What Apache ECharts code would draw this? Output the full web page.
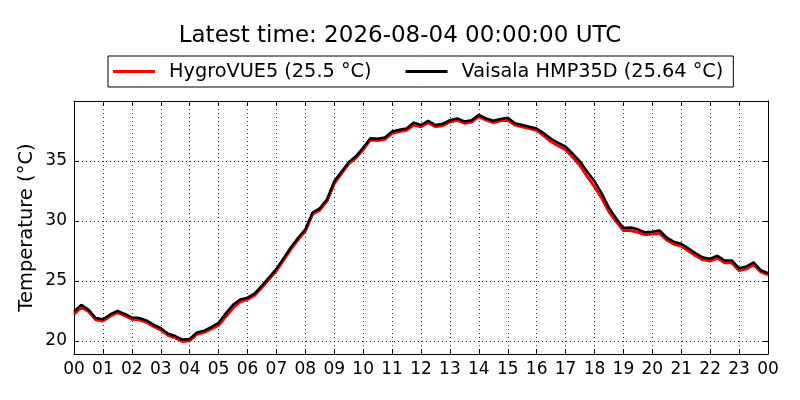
<!DOCTYPE html>
<html>
<head>
<meta charset="utf-8">
<script src="https://cdn.jsdelivr.net/npm/echarts@6/dist/echarts.min.js"></script>
<style>
html, body { margin: 0; padding: 0; background: #fff; }
#chart { width: 800px; height: 400px; }
</style>
</head>
<body>
<div id="chart"></div>
<script>
// hours since 00:00 UTC, one reading every 15 minutes
var hours = [
    0, 0.25, 0.5, 0.75, 1, 1.25, 1.5, 1.75, 2, 2.25, 2.5, 2.75,
    3, 3.25, 3.5, 3.75, 4, 4.25, 4.5, 4.75, 5, 5.25, 5.5, 5.75,
    6, 6.25, 6.5, 6.75, 7, 7.25, 7.5, 7.75, 8, 8.25, 8.5, 8.75,
    9, 9.25, 9.5, 9.75, 10, 10.25, 10.5, 10.75, 11, 11.25, 11.5, 11.75,
    12, 12.25, 12.5, 12.75, 13, 13.25, 13.5, 13.75, 14, 14.25, 14.5, 14.75,
    15, 15.25, 15.5, 15.75, 16, 16.25, 16.5, 16.75, 17, 17.25, 17.5, 17.75,
    18, 18.25, 18.5, 18.75, 19, 19.25, 19.5, 19.75, 20, 20.25, 20.5, 20.75,
    21, 21.25, 21.5, 21.75, 22, 22.25, 22.5, 22.75, 23, 23.25, 23.5, 23.75, 24
];

var hygroVUE5 = [
    22.2, 22.8, 22.45, 21.75, 21.65, 22.05, 22.35, 22.1, 21.8, 21.75, 21.55, 21.2,
    20.9, 20.45, 20.25, 19.95, 20.0, 20.55, 20.7, 21.0, 21.3, 22.0, 22.75, 23.25,
    23.45, 23.8, 24.45, 25.15, 25.85, 26.75, 27.65, 28.45, 29.15, 30.55, 30.9, 31.65,
    33.1, 33.95, 34.75, 35.25, 35.95, 36.75, 36.7, 36.8, 37.3, 37.45, 37.55, 38.0,
    37.85, 38.2, 37.85, 37.95, 38.25, 38.4, 38.15, 38.25, 38.7, 38.4, 38.2, 38.35,
    38.4, 38.0, 37.85, 37.7, 37.55, 37.1, 36.6, 36.25, 35.95, 35.3, 34.6, 33.7,
    32.85, 31.9, 30.75, 29.95, 29.2, 29.2, 29.05, 28.85, 28.9, 28.95, 28.4, 28.05,
    27.9, 27.5, 27.1, 26.75, 26.65, 26.9, 26.5, 26.5, 25.85, 26.0, 26.35, 25.75, 25.5
];

var hmp35d = [
    22.45, 23.0, 22.6, 21.9, 21.8, 22.2, 22.5, 22.25, 21.95, 21.9, 21.7, 21.35,
    21.05, 20.6, 20.4, 20.1, 20.15, 20.7, 20.85, 21.15, 21.5, 22.3, 23.0, 23.45,
    23.6, 23.95, 24.6, 25.3, 26.0, 26.9, 27.8, 28.6, 29.3, 30.7, 31.05, 31.8,
    33.3, 34.1, 34.9, 35.4, 36.1, 36.9, 36.85, 36.95, 37.45, 37.6, 37.7, 38.2,
    38.0, 38.35, 38.0, 38.1, 38.4, 38.55, 38.3, 38.4, 38.85, 38.55, 38.35, 38.5,
    38.6, 38.15, 38.0, 37.85, 37.7, 37.3, 36.85, 36.5, 36.2, 35.6, 34.95, 34.1,
    33.3, 32.3, 31.1, 30.2, 29.4, 29.45, 29.3, 29.05, 29.1, 29.2, 28.6, 28.25,
    28.1, 27.7, 27.3, 26.95, 26.85, 27.1, 26.7, 26.7, 26.05, 26.2, 26.55, 25.9, 25.64
];

var yTicks = [20, 25, 30, 35];

function add0(m) {
    return m < 10 ? '0' + m : '' + m;
}

function pairs(xs, ys) {
    var out = [];
    for (var i = 0; i < xs.length; i++) {
        out.push([xs[i], ys[i]]);
    }
    return out;
}

var font = 'DejaVu Sans';
var chart = echarts.init(document.getElementById('chart'), null, {renderer: 'canvas'});

var xBase = {
    type: 'value',
    min: 0,
    max: 24,
    interval: 1,
    axisLine: {show: true, onZero: false, lineStyle: {color: '#000', width: 1}},
    axisTick: {show: true, inside: true, length: 5, lineStyle: {color: '#000'}},
    splitLine: {show: false}
};
var yBase = {
    type: 'value',
    min: 18.9,
    max: 40,
    axisLine: {show: true, onZero: false, lineStyle: {color: '#000', width: 1}},
    axisTick: {show: true, inside: true, length: 5, customValues: yTicks, lineStyle: {color: '#000'}},
    splitLine: {show: false}
};

var option = {
    animation: false,
    backgroundColor: '#fff',
    title: {
        text: 'Latest time: 2026-08-04 00:00:00 UTC',
        left: 'center',
        top: 20,
        textStyle: {fontFamily: font, fontSize: 23, fontWeight: 'normal', color: '#000'}
    },
    legend: {
        top: 56,
        left: 108,
        width: 628,
        padding: [6, 10, 6, 5],
        itemGap: 34,
        itemWidth: 42,
        itemHeight: 3,
        icon: 'rect',
        borderColor: '#000',
        borderWidth: 1,
        textStyle: {fontFamily: font, fontSize: 19.3, color: '#000', padding: [0, 0, 0, 9]},
        data: [
            {name: 'HygroVUE5 (25.5 °C)', itemStyle: {color: '#ff0000'}},
            {name: 'Vaisala HMP35D (25.64 °C)', itemStyle: {color: '#000000'}}
        ]
    },
    grid: {left: 74, right: 32, top: 101, bottom: 46, containLabel: false},
    xAxis: [
        echarts.util.merge({
            position: 'bottom',
            axisLabel: {
                margin: 7,
                fontFamily: font, fontSize: 17, color: '#000',
                formatter: function (v) { return add0(v % 24); }
            },
            splitLine: {show: true, lineStyle: {color: '#000', type: [1, 3], width: 0.8}}
        }, xBase, false),
        echarts.util.merge({position: 'top', axisLabel: {show: false}}, xBase, false)
    ],
    yAxis: [
        echarts.util.merge({
            position: 'left',
            name: 'Temperature (°C)',
            nameLocation: 'middle',
            nameGap: 37,
            nameMoveOverlap: false,
            nameRotate: 90,
            nameTextStyle: {fontFamily: font, fontSize: 19.5, color: '#000'},
            axisLabel: {
                margin: 7, customValues: yTicks,
                fontFamily: font, fontSize: 17, color: '#000'
            },
            splitLine: {show: true, lineStyle: {color: '#000', type: [1, 3], width: 0.8}}
        }, yBase, false),
        echarts.util.merge({position: 'right', axisLabel: {show: false}}, yBase, false)
    ],
    series: [
        {
            name: 'HygroVUE5 (25.5 °C)',
            type: 'line',
            showSymbol: false,
            color: '#ff0000',
            lineStyle: {color: '#ff0000', width: 3},
            data: pairs(hours, hygroVUE5),
            z: 3
        },
        {
            name: 'Vaisala HMP35D (25.64 °C)',
            type: 'line',
            showSymbol: false,
            color: '#000000',
            lineStyle: {color: '#000000', width: 2.5},
            data: pairs(hours, hmp35d),
            z: 4
        }
    ]
};

chart.setOption(option);
</script>
</body>
</html>
